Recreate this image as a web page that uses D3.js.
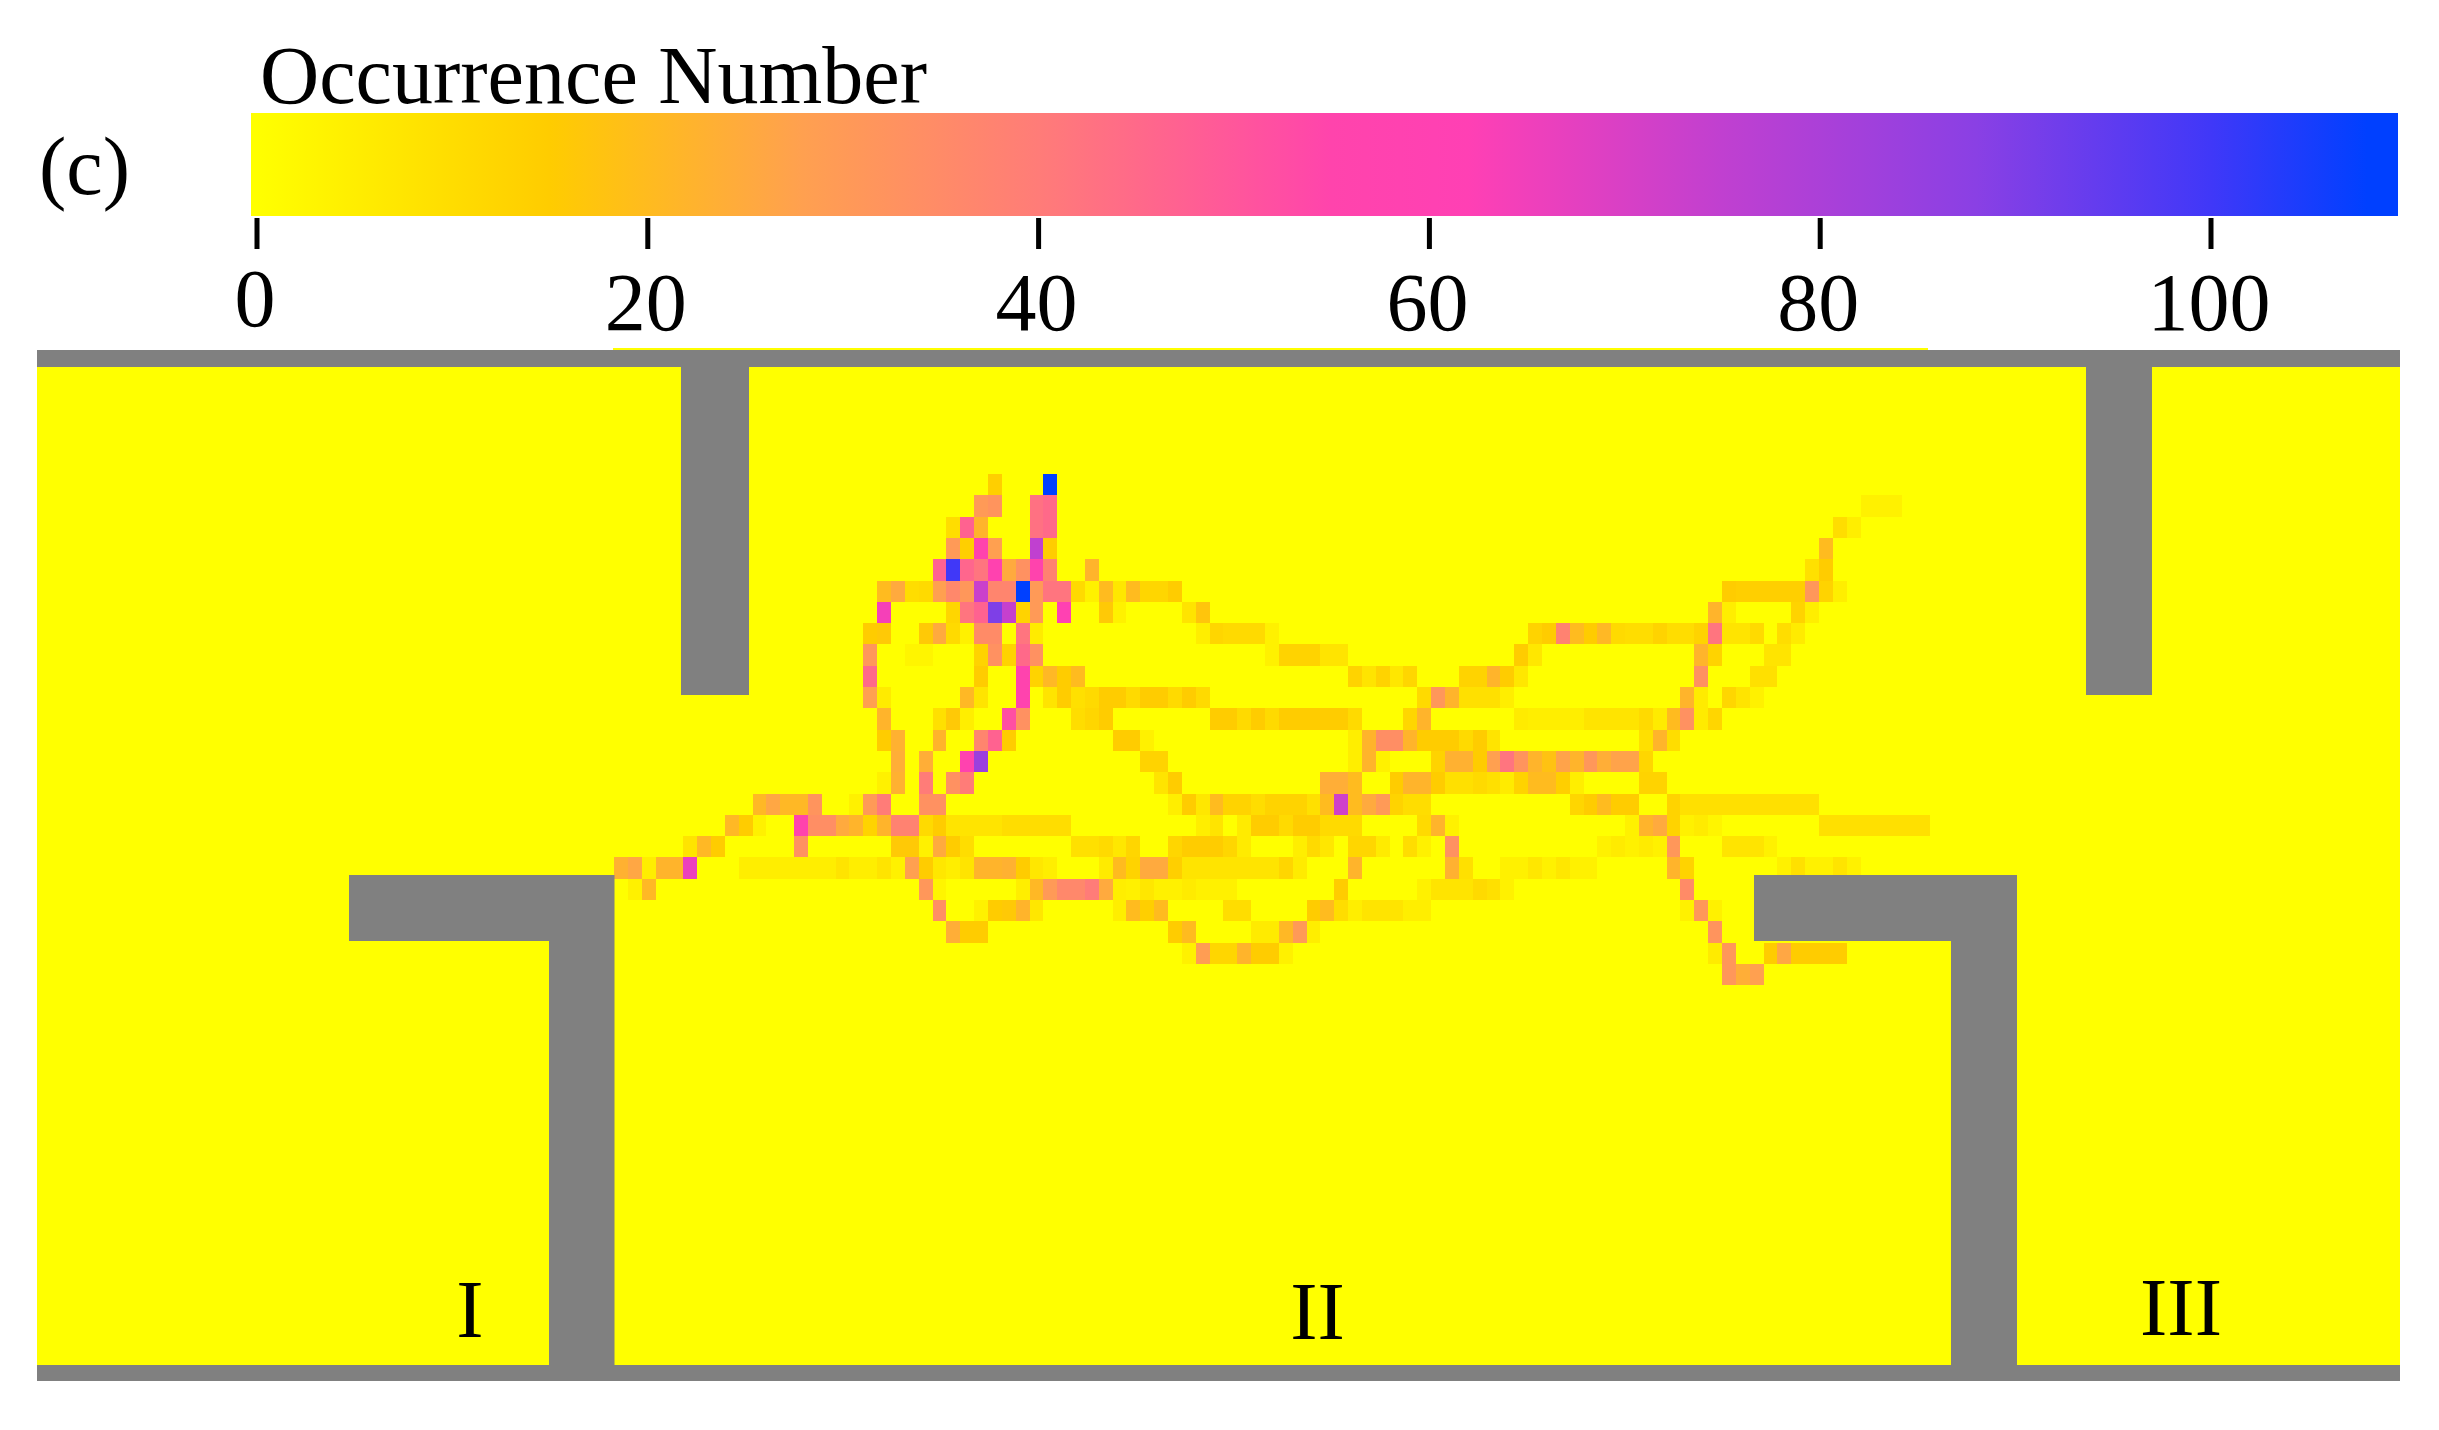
<!DOCTYPE html>
<html><head><meta charset="utf-8">
<script src="https://cdn.jsdelivr.net/npm/d3@7"></script>
<style>html,body{margin:0;padding:0;background:#fff}svg{display:block}text{font-family:"Liberation Serif","Times New Roman",serif;fill:#000}</style>
</head><body>
<svg id="c" width="2439" height="1430"></svg>
<script>
// Colour legend
const colorStops = [0, 15, 28, 40, 55, 62, 75, 88, 100, 108];
const colorValues = ["#ffff00", "#ffcc00", "#ffa050", "#ff7c78", "#ff44ac", "#ff40b4", "#c040d0", "#8a40e4", "#4038f8", "#0040ff"];
const legendTicks = [0, 20, 40, 60, 80, 100];
const legendTitle = "Occurrence Number";
const panelLabel = "(c)";
const roomLabels = ["I", "II", "III"];

// Occurrence counts: [column, count] per grid row, top to bottom
const row00 = [[27,14],[31,110]];
const row01 = [[26,30],[27,32],[30,43],[31,45],[90,4],[91,4],[92,4]];
const row02 = [[24,10],[25,47],[26,22],[30,43],[31,45],[88,10],[89,5]];
const row03 = [[24,30],[25,14],[26,56],[27,28],[30,75],[31,15],[87,20]];
const row04 = [[23,47],[24,100],[25,46],[26,42],[27,58],[28,25],[29,33],[30,56],[31,38],[34,22],[86,9],[87,15]];
const row05 = [[19,20],[20,25],[21,10],[22,11],[23,28],[24,36],[25,31],[26,73],[27,37],[28,37],[29,110],[30,30],[31,42],[32,42],[33,11],[34,4],[35,20],[36,7],[37,20],[38,12],[39,12],[40,15],[80,15],[81,14],[82,14],[83,14],[84,14],[85,14],[86,31],[87,13],[88,5]];
const row06 = [[19,64],[24,12],[25,42],[26,47],[27,90],[28,74],[29,13],[30,30],[32,60],[35,16],[36,4],[41,8],[42,17],[79,22],[80,5],[85,13],[86,5]];
const row07 = [[18,15],[19,16],[22,16],[23,25],[24,11],[25,4],[26,35],[27,35],[29,42],[30,6],[42,5],[43,12],[44,11],[45,11],[46,11],[47,4],[66,13],[67,15],[68,38],[69,20],[70,15],[71,21],[72,11],[73,10],[74,10],[75,13],[76,10],[77,10],[78,13],[79,42],[80,8],[81,8],[82,11],[84,10],[85,6]];
const row08 = [[18,31],[21,3],[22,3],[26,13],[27,33],[28,13],[29,45],[30,33],[47,4],[48,13],[49,13],[50,13],[51,8],[52,8],[65,15],[66,7],[78,22],[79,13],[83,8],[84,8]];
const row09 = [[18,45],[26,15],[29,57],[30,13],[31,21],[32,15],[33,20],[53,13],[54,8],[55,13],[56,7],[57,12],[61,13],[62,13],[63,22],[64,15],[65,7],[78,33],[82,9],[83,9]];
const row10 = [[18,28],[19,6],[25,21],[26,8],[29,57],[31,8],[32,15],[33,9],[34,11],[35,15],[36,15],[37,11],[38,15],[39,15],[40,11],[41,15],[42,11],[58,11],[59,31],[60,22],[61,9],[62,9],[63,9],[64,5],[77,22],[78,6],[80,12],[81,8],[82,4]];
const row11 = [[19,22],[23,9],[24,16],[25,5],[28,52],[29,33],[33,10],[34,12],[35,15],[43,15],[44,15],[45,11],[46,15],[47,11],[48,15],[49,15],[50,15],[51,15],[52,15],[53,11],[57,12],[58,22],[65,6],[66,5],[67,5],[68,5],[69,5],[70,8],[71,8],[72,8],[73,8],[74,11],[75,6],[76,20],[77,33],[78,6],[79,12]];
const row12 = [[19,15],[20,23],[23,22],[26,37],[27,47],[28,15],[36,15],[37,15],[38,4],[53,5],[54,22],[55,34],[56,34],[57,22],[58,15],[59,15],[60,15],[61,11],[62,15],[63,8],[74,9],[75,22],[76,10]];
const row13 = [[20,24],[22,24],[25,58],[26,84],[38,13],[39,13],[53,5],[54,22],[55,4],[59,13],[60,23],[61,23],[62,15],[63,28],[64,42],[65,32],[66,22],[67,18],[68,27],[69,22],[70,31],[71,24],[72,27],[73,27],[74,12]];
const row14 = [[19,4],[20,23],[22,40],[24,33],[25,40],[39,8],[40,15],[51,24],[52,24],[53,20],[56,15],[57,22],[58,22],[59,15],[60,9],[61,9],[62,11],[63,9],[64,6],[65,13],[66,20],[67,20],[68,14],[69,5],[74,13],[75,13]];
const row15 = [[10,21],[11,26],[12,21],[13,21],[14,32],[17,4],[18,30],[19,40],[22,33],[23,33],[40,5],[41,15],[42,7],[43,20],[44,13],[45,13],[46,10],[47,13],[48,13],[49,13],[50,9],[51,20],[52,72],[53,20],[54,25],[55,30],[56,13],[57,10],[58,10],[69,12],[70,15],[71,20],[72,15],[73,15],[76,13],[77,9],[78,9],[79,9],[80,9],[81,9],[82,9],[83,9],[84,9],[85,9],[86,9]];
const row16 = [[8,21],[9,15],[10,4],[13,56],[14,34],[15,34],[16,25],[17,22],[18,13],[19,22],[20,38],[21,38],[22,11],[23,15],[24,8],[25,8],[26,8],[27,8],[28,10],[29,10],[30,10],[31,10],[32,10],[42,5],[43,8],[45,6],[46,15],[47,15],[48,11],[49,15],[50,15],[51,11],[52,11],[53,11],[58,11],[59,22],[60,4],[73,4],[74,22],[75,25],[76,13],[77,4],[78,6],[79,3],[87,9],[88,9],[89,9],[90,9],[91,9],[92,9],[93,9],[94,9]];
const row17 = [[5,8],[6,21],[7,15],[13,33],[20,16],[21,16],[22,4],[23,25],[24,15],[25,10],[33,9],[34,9],[35,11],[36,7],[37,12],[40,12],[41,15],[42,15],[43,15],[44,12],[45,6],[49,5],[50,11],[51,7],[53,12],[54,12],[55,6],[57,10],[58,4],[60,33],[71,4],[72,6],[73,4],[74,6],[75,4],[76,31],[80,8],[81,8],[82,8],[83,4]];
const row18 = [[0,23],[1,26],[2,5],[3,22],[4,22],[5,66],[9,5],[10,5],[11,5],[12,5],[13,5],[14,5],[15,5],[16,8],[17,5],[18,5],[19,8],[20,4],[21,28],[22,15],[23,7],[24,5],[25,8],[26,22],[27,22],[28,23],[29,15],[30,7],[31,5],[35,6],[36,20],[37,13],[38,25],[39,25],[40,14],[41,8],[42,8],[43,8],[44,8],[45,8],[46,8],[47,8],[48,12],[49,6],[53,22],[60,23],[61,9],[64,4],[65,4],[66,7],[67,4],[68,7],[69,4],[70,4],[76,22],[77,13],[84,4],[85,9],[86,4],[87,4],[88,8],[89,4]];
const row19 = [[1,4],[2,21],[22,31],[23,3],[29,5],[30,21],[31,30],[32,36],[33,36],[34,40],[35,25],[36,5],[37,4],[38,7],[39,4],[40,4],[41,6],[42,4],[43,4],[44,4],[52,15],[58,4],[59,8],[60,8],[61,8],[62,11],[63,9],[64,4],[77,35]];
const row20 = [[23,34],[26,4],[27,15],[28,16],[29,22],[30,7],[36,5],[37,20],[38,14],[39,20],[44,10],[45,10],[50,15],[51,20],[52,10],[53,5],[54,8],[55,8],[56,8],[57,5],[58,5],[77,4],[78,31],[79,4]];
const row21 = [[24,24],[25,15],[26,15],[40,15],[41,20],[46,6],[47,6],[48,21],[49,30],[50,5],[79,32]];
const row22 = [[41,4],[42,29],[43,12],[44,12],[45,22],[46,15],[47,15],[48,4],[79,6],[80,31],[83,15],[84,26],[85,15],[86,15],[87,15],[88,15]];
const row23 = [[80,31],[81,24],[82,28]];
const gridRows = [row00,row01,row02,row03,row04,row05,row06,row07,row08,row09,row10,row11,row12,row13,row14,row15,row16,row17,row18,row19,row20,row21,row22,row23];

const svg = d3.select("#c");
const color = d3.scaleLinear().domain(colorStops).range(colorValues).interpolate(d3.interpolateRgb).clamp(true);
const x = d3.scaleLinear().domain([0, 95]).range([614, 1929.75]);
const y = d3.scaleLinear().domain([0, 24]).range([474, 985.3]);
const legendX = d3.scaleLinear().domain([0, 110]).range([256.5, 2405.9]);

// panel text
const serif = 82;
svg.append("text").attr("x", 260).attr("y", 103).attr("font-size", serif).text(legendTitle);
svg.append("text").attr("x", 39).attr("y", 194).attr("font-size", serif).text(panelLabel);

// colour bar
const grad = svg.append("defs").append("linearGradient").attr("id", "bar");
colorStops.forEach((s, i) => grad.append("stop").attr("offset", (legendX(s) - 251) / (2398 - 251)).attr("stop-color", colorValues[i]));
svg.append("rect").attr("x", 251).attr("y", 113).attr("width", 2398 - 251).attr("height", 103).attr("fill", "url(#bar)");

// legend axis
const axis = svg.append("g").attr("transform", "translate(0,218)")
  .call(d3.axisBottom(legendX).tickValues(legendTicks).tickSize(31).tickPadding(0).tickFormat(d3.format("d")));
axis.select(".domain").remove();
axis.selectAll("line").attr("stroke", "#000").attr("stroke-width", 5);
axis.selectAll("text").attr("font-size", serif).attr("font-family", '"Liberation Serif"').attr("fill", "#000")
  .attr("text-anchor", "middle").attr("dy", 0).attr("y", d => d === 0 ? 108 : 112).attr("x", -2);

// room background and thin strip at the top edge
svg.append("rect").attr("x", 613).attr("y", 348).attr("width", 1928 - 613).attr("height", 3).attr("fill", color(0));
svg.append("rect").attr("x", 37).attr("y", 367).attr("width", 2400 - 37).attr("height", 1365 - 367).attr("fill", color(0));

// heat-map cells
const cells = gridRows.flatMap((r, i) => r.map(([c, n]) => ({ r: i, c, n })));
svg.append("g").attr("shape-rendering", "crispEdges").selectAll("rect").data(cells).join("rect")
  .attr("x", d => x(d.c)).attr("y", d => y(d.r))
  .attr("width", d => x(d.c + 1) - x(d.c)).attr("height", d => y(d.r + 1) - y(d.r))
  .attr("fill", d => color(d.n));

// walls
const walls = [
  [37, 350, 2400, 367], [37, 1365, 2400, 1381],
  [681, 367, 749, 695], [2086, 367, 2152, 695],
  [349, 875, 614.5, 941], [549, 941, 614.5, 1365],
  [1754, 875, 2017, 941], [1951, 941, 2017, 1365]
];
svg.append("g").selectAll("rect").data(walls).join("rect")
  .attr("x", d => d[0]).attr("y", d => d[1]).attr("width", d => d[2] - d[0]).attr("height", d => d[3] - d[1]).attr("fill", "#808080");

// room labels
const labelPos = [[470, 1337], [1317.5, 1339], [2181, 1335]];
svg.append("g").selectAll("text").data(roomLabels).join("text")
  .attr("x", (d, i) => labelPos[i][0]).attr("y", (d, i) => labelPos[i][1]).attr("text-anchor", "middle").attr("font-size", serif).text(d => d);
</script>
</body></html>
